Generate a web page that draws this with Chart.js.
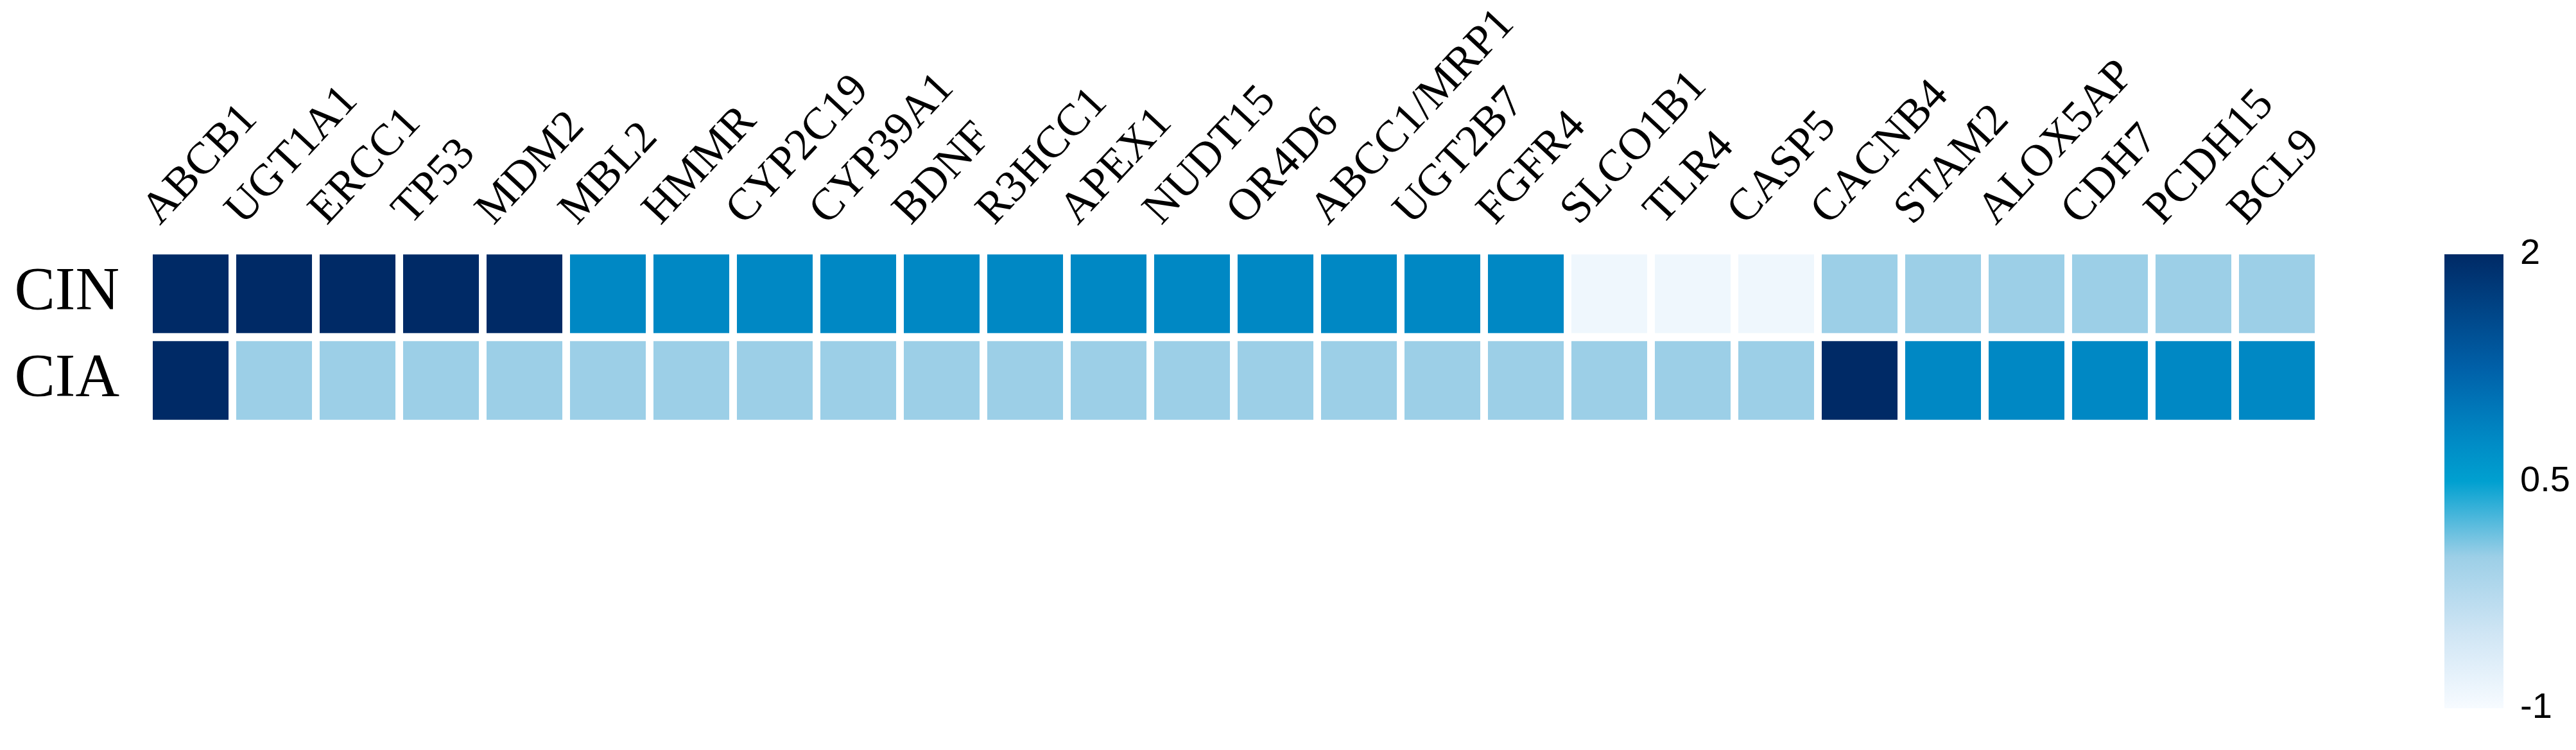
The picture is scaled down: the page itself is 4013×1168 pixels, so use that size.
<!DOCTYPE html>
<html><head><meta charset="utf-8">
<script src="https://cdn.jsdelivr.net/npm/chart.js@4"></script>
<style>html,body{margin:0;padding:0;background:#fff;overflow:hidden}
#m{position:absolute;left:0;top:0}#c{position:absolute;left:3700px;top:0}</style>
</head><body>
<canvas id="m" width="4013" height="1168"></canvas>
<canvas id="c" width="313" height="1168"></canvas>
<script>
const genes=["ABCB1","UGT1A1","ERCC1","TP53","MDM2","MBL2","HMMR","CYP2C19","CYP39A1","BDNF","R3HCC1","APEX1","NUDT15","OR4D6","ABCC1/MRP1","UGT2B7","FGFR4","SLCO1B1","TLR4","CASP5","CACNB4","STAM2","ALOX5AP","CDH7","PCDH15","BCL9"];
const rows=["CIN","CIA"];
const cinValues=[2,2,2,2,2,0.8,0.8,0.8,0.8,0.8,0.8,0.8,0.8,0.8,0.8,0.8,0.8,-0.9,-0.9,-0.9,0,0,0,0,0,0];
const ciaValues=[2,0,0,0,0,0,0,0,0,0,0,0,0,0,0,0,0,0,0,0,2,0.8,0.8,0.8,0.8,0.8];
const scaleTicks=[-1,0.5,2];
const stops=[[-1,[247,251,255]],[-0.5,[207,229,244]],[0,[156,207,231]],[0.5,[0,160,208]],[0.8,[0,136,196]],[1.25,[0,96,168]],[2,[0,42,102]]];
function color(v){
  for(let i=1;i<stops.length;i++){
    if(v<=stops[i][0]){const a=stops[i-1],b=stops[i];const t=(v-a[0])/(b[0]-a[0]);
      const c=a[1].map((x,k)=>Math.round(x+(b[1][k]-x)*t));return `rgb(${c})`;}
  }
  return 'rgb(0,42,102)';
}
const serif="'Liberation Serif','DejaVu Serif',serif";
const mk=(vals,r)=>({data:vals.map(()=>[r+0.047,r+0.953]),backgroundColor:vals.map(color),
  barPercentage:0.908,categoryPercentage:1,borderWidth:0,grouped:false});
new Chart(document.getElementById('m'),{type:'bar',
 data:{labels:genes,datasets:[mk(cinValues,0),mk(ciaValues,1)]},
 options:{responsive:false,animation:false,
  layout:{padding:{left:0,right:401,top:0,bottom:508}},
  plugins:{legend:{display:false},tooltip:{enabled:false}},
  scales:{
   x:{position:'top',grid:{display:false},border:{display:false},
      ticks:{color:'#000',font:{family:serif,size:70},minRotation:47,maxRotation:47,autoSkip:false,padding:14},
      afterFit:s=>{s.height=390;}},
   y:{min:0,max:2,reverse:true,grid:{display:false},border:{display:false},
      afterBuildTicks:s=>{s.ticks=[{value:0.5},{value:1.5}];},
      ticks:{color:'#000',font:{family:serif,size:95},padding:38,callback:v=>rows[Math.floor(v)]},
      afterFit:s=>{s.width=232;}}
  }}});
new Chart(document.getElementById('c'),{type:'bar',
 data:{labels:['scale'],datasets:[{data:[[-1,2]],borderWidth:0,barPercentage:1,categoryPercentage:1,
   backgroundColor:ctx=>{const ca=ctx.chart.chartArea;if(!ca)return '#0088c4';
     const g=ctx.chart.ctx.createLinearGradient(0,ca.bottom,0,ca.top);
     for(let v=-1;v<=2.001;v+=0.25)g.addColorStop((v+1)/3,color(v));return g;}}]},
 options:{responsive:false,animation:false,
  layout:{padding:{left:108,right:0,top:396,bottom:65}},
  plugins:{legend:{display:false},tooltip:{enabled:false}},
  scales:{x:{display:false},
   y:{position:'right',min:-1,max:2,grid:{display:false},border:{display:false},
      afterBuildTicks:s=>{s.ticks=scaleTicks.map(v=>({value:v}));},
      ticks:{color:'#000',font:{family:"'Liberation Sans',Arial,sans-serif",size:56},padding:18},
      afterFit:s=>{s.width=113;}}}}});
</script></body></html>
